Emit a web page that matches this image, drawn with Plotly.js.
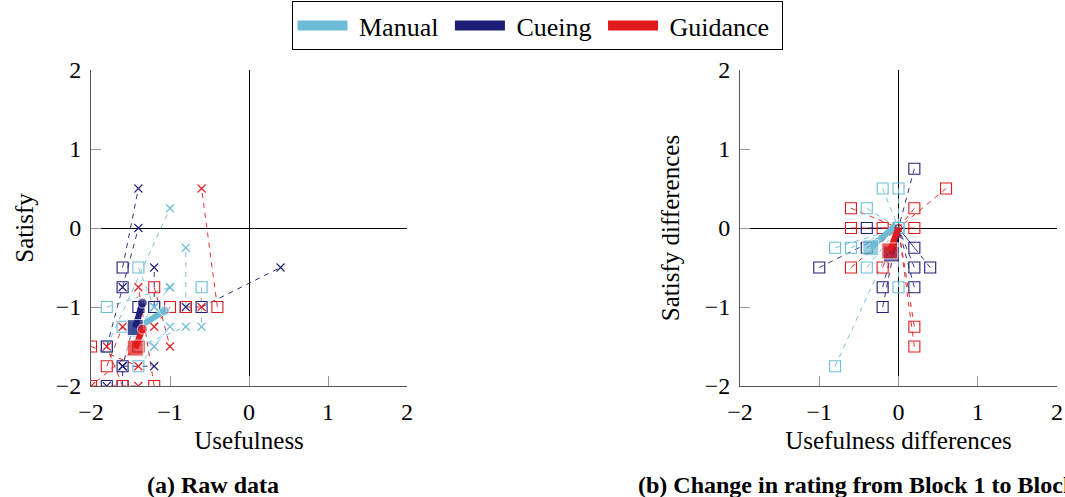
<!DOCTYPE html>
<html><head><meta charset="utf-8">
<script src="https://cdn.plot.ly/plotly-3.0.1.min.js"></script>
<style>html,body{margin:0;padding:0;background:#fff}#chart{width:1065px;height:497px}</style>
</head><body><div id="chart"></div>
<script>
const conditions = ['Manual', 'Cueing', 'Guidance'];
const colors = ['#6cbcd6', '#1e1e78', '#e31a1c'];

// ---- (a) Raw data: Block 1 (squares) -> Block 2 (crosses), per participant ----
const manualB1X = [-1.8, -0.8, -1.4, -1.8, -1.4, -1.4, -1.4, -0.6, -1.6, -1.2];
const manualB1Y = [-1.5, -1.0, -1.25, -1.0, -1.75, -1.5, -0.5, -0.75, -1.25, -1.0];
const manualB2X = [-1.0, -0.8, -1.0, -1.0, -1.0, -0.8, -1.2, -0.6, -1.2, -1.2];
const manualB2Y = [0.25, -0.25, -0.75, -0.75, -1.25, -1.25, -1.0, -1.25, -1.5, -1.0];

const cueingB1X = [-1.6, -1.6, -0.6, -1.4, -1.2, -0.8, -1.8, -1.6, -1.8, -1.6];
const cueingB1Y = [-0.5, -0.75, -1.0, -1.0, -1.0, -1.0, -1.5, -1.75, -2.0, -2.0];
const cueingB2X = [-1.4, -1.4, 0.4, -1.6, -1.2, -0.8, -1.6, -1.2, -1.8, -1.6];
const cueingB2Y = [0.5, 0.0, -0.5, -1.75, -0.5, -1.0, -0.75, -1.75, -2.0, -1.75];

const guidanceB1X = [-0.4, -1.2, -1.4, -2.0, -0.8, -1.0, -1.8, -2.0, -1.6, -1.2];
const guidanceB1Y = [-1.0, -2.0, -1.5, -2.0, -1.0, -1.0, -1.75, -1.5, -2.0, -0.75];
const guidanceB2X = [-0.6, -1.4, -2.0, -1.4, -0.6, -1.2, -1.6, -1.4, -1.8, -1.0];
const guidanceB2Y = [0.5, -0.75, -2.0, -2.0, -1.0, -1.25, -1.25, -1.75, -1.5, -1.5];

// group means (Block 1 -> Block 2)
const manualMeanX = [-1.44, -1.07];
const manualMeanY = [-1.28, -1.05];
const cueingMeanX = [-1.44, -1.35];
const cueingMeanY = [-1.26, -0.95];
const guidanceMeanX = [-1.44, -1.35];
const guidanceMeanY = [-1.52, -1.28];

// ---- (b) Change in rating from Block 1 to Block 2 ----
const manualDiffX = [-0.2, 0.0, -0.4, -0.8, -0.6, -0.4, 0.0, -0.8, 0.0, 0.0];
const manualDiffY = [0.5, 0.5, 0.25, -0.25, -0.25, -0.5, -0.75, -1.75, 0.0, 0.0];
const cueingDiffX = [0.2, -0.4, -0.4, 0.2, -1.0, 0.2, 0.4, -0.2, 0.2, -0.2];
const cueingDiffY = [0.75, 0.0, -0.25, -0.25, -0.5, -0.5, -0.5, -0.75, -0.75, -1.0];
const guidanceDiffX = [0.6, -0.6, 0.2, -0.6, -0.2, 0.2, -0.6, -0.2, 0.2, 0.2];
const guidanceDiffY = [0.5, 0.25, 0.25, 0.0, 0.0, 0.0, -0.5, -0.5, -1.25, -1.5];

const manualDiffMeanX = [-0.35, -0.03];
const manualDiffMeanY = [-0.25, 0.04];
const cueingDiffMeanX = [-0.09, 0.0];
const cueingDiffMeanY = [-0.33, 0.0];
const guidanceDiffMeanX = [-0.11, 0.0];
const guidanceDiffMeanY = [-0.29, 0.0];

const raw = [
  [manualB1X, manualB1Y, manualB2X, manualB2Y, manualMeanX, manualMeanY],
  [cueingB1X, cueingB1Y, cueingB2X, cueingB2Y, cueingMeanX, cueingMeanY],
  [guidanceB1X, guidanceB1Y, guidanceB2X, guidanceB2Y, guidanceMeanX, guidanceMeanY]
];
const diffs = [
  [manualDiffX, manualDiffY, manualDiffMeanX, manualDiffMeanY],
  [cueingDiffX, cueingDiffY, cueingDiffMeanX, cueingDiffMeanY],
  [guidanceDiffX, guidanceDiffY, guidanceDiffMeanX, guidanceDiffMeanY]
];

function segs(ax, ay, bx, by) {
  const x = [], y = [];
  for (let i = 0; i < ax.length; i++) { x.push(ax[i], bx[i], null); y.push(ay[i], by[i], null); }
  return {x, y};
}

const lineTraces = [], markTraces = [], meanTraces = [];
raw.forEach((d, k) => {
  const s = segs(d[0], d[1], d[2], d[3]);
  lineTraces.push({type:'scatter', mode:'lines', x:s.x, y:s.y, xaxis:'x', yaxis:'y', showlegend:false, hoverinfo:'skip',
    line:{color:colors[k], width:1, dash:'5px,5px'}, opacity:0.9});
  markTraces.push({type:'scatter', mode:'markers', x:d[0], y:d[1], xaxis:'x', yaxis:'y', showlegend:false,
    marker:{symbol:'square-open', size:11, color:colors[k], line:{width:1.1}}});
  markTraces.push({type:'scatter', mode:'markers', x:d[2], y:d[3], xaxis:'x', yaxis:'y', showlegend:false,
    marker:{symbol:'x-thin-open', size:8, color:colors[k], line:{width:1.1, color:colors[k]}}});
  meanTraces.push({type:'scatter', mode:'lines+markers', x:d[4], y:d[5], xaxis:'x', yaxis:'y', showlegend:false,
    line:{color:colors[k], width:6}, marker:{symbol:['square','circle'], size:[16,10], color:colors[k]}});
});
diffs.forEach((d, k) => {
  const zx = d[0].map(() => 0), zy = d[1].map(() => 0);
  const s = segs(d[0], d[1], zx, zy);
  lineTraces.push({type:'scatter', mode:'lines', x:s.x, y:s.y, xaxis:'x2', yaxis:'y2', showlegend:false, hoverinfo:'skip',
    line:{color:colors[k], width:1, dash:'5px,5px'}, opacity:0.9});
  markTraces.push({type:'scatter', mode:'markers', x:d[0], y:d[1], xaxis:'x2', yaxis:'y2', showlegend:false,
    marker:{symbol:'square-open', size:11, color:colors[k], line:{width:1.1}}});
  meanTraces.push({type:'scatter', mode:'lines+markers', x:d[2], y:d[3], xaxis:'x2', yaxis:'y2', showlegend:false,
    line:{color:colors[k], width:6}, marker:{symbol:['square','circle-open'], size:[16,7], color:colors[k]}});
});
// legend entries
const legendTraces = conditions.map((c, k) => ({type:'scatter', mode:'lines', x:[null], y:[null],
  name:'\u00a0' + c + '\u00a0', line:{color:colors[k], width:10}, showlegend:true, xaxis:'x', yaxis:'y'}));

const data = lineTraces.concat(markTraces, meanTraces, legendTraces);

const serif = 'Liberation Serif, Times New Roman, serif';
const axBase = {range:[-2,2], showgrid:false, zeroline:true, zerolinecolor:'#000', zerolinewidth:1,
  showline:true, linecolor:'#555', linewidth:1, ticks:'inside', ticklen:10, tickcolor:'#999', tickwidth:1,
  tickvals:[-2,-1,0,1,2], tickfont:{family:serif, size:24, color:'#000'}, fixedrange:true, ticklabelstandoff:4};

const yDom = [1 - 386/497, 1 - 70/497];
const layout = {
  width:1065, height:497, margin:{l:0, r:0, t:0, b:0}, paper_bgcolor:'#fff', plot_bgcolor:'rgba(0,0,0,0)',
  font:{family:serif, color:'#000'},
  xaxis: Object.assign({}, axBase, {domain:[91/1065, 407/1065], anchor:'y',
    title:{text:'Usefulness', font:{family:serif, size:25}, standoff:7}}),
  yaxis: Object.assign({}, axBase, {domain:yDom, anchor:'x',
    title:{text:'Satisfy', font:{family:serif, size:25}, standoff:14}}),
  xaxis2: Object.assign({}, axBase, {domain:[740/1065, 1057/1065], anchor:'y2',
    title:{text:'Usefulness differences', font:{family:serif, size:25}, standoff:7}}),
  yaxis2: Object.assign({}, axBase, {domain:yDom, anchor:'x2',
    title:{text:'Satisfy differences', font:{family:serif, size:25}, standoff:17}}),
  showlegend:true,
  legend:{orientation:'h', x:537/1065, xanchor:'center', y:1 - 1/497, yanchor:'top',
    bordercolor:'#000', borderwidth:1, font:{family:serif, size:26, color:'#000'}, itemwidth:50, bgcolor:'#fff'},
  annotations:[
    {text:'<b>(a) Raw data</b>', xref:'paper', yref:'paper', x:213/1065, y:1 - 485/497, xanchor:'center', yanchor:'middle',
     showarrow:false, font:{family:serif, size:24, color:'#000'}},
    {text:'<b>(b) Change in rating from Block 1 to Block 2</b>', xref:'paper', yref:'paper', x:636/1065, y:1 - 485/497,
     xanchor:'left', yanchor:'middle', showarrow:false, font:{family:serif, size:24, color:'#000'}}
  ]
};
Plotly.newPlot('chart', data, layout, {displayModeBar:false, staticPlot:true});
</script>
</body></html>
